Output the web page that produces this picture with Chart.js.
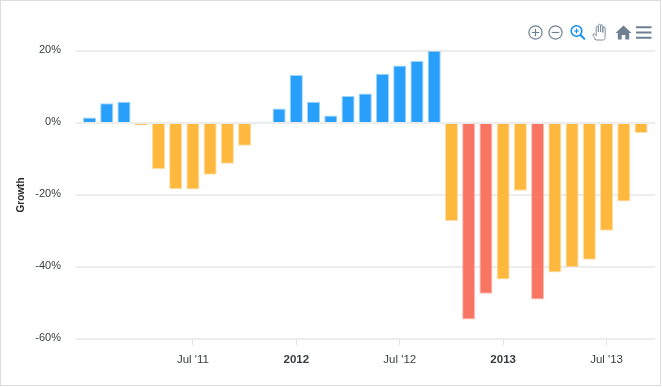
<!DOCTYPE html>
<html>
<head>
<meta charset="utf-8">
<style>
html,body{margin:0;padding:0;background:#fff;overflow:hidden}
#wrap{position:absolute;left:0;top:0;width:662px;height:387px}
#frame{position:absolute;left:0;top:0;width:659px;height:384px;border:1.5px solid #dcdcdc;pointer-events:none}
#tools{position:absolute;left:0;top:0;pointer-events:none}
</style>
<script src="https://cdn.jsdelivr.net/npm/chart.js@4"></script>
</head>
<body>
<div id="wrap">
<canvas id="c" width="662" height="387"></canvas>
<svg id="tools" width="662" height="60" fill="none">
  <g stroke="#6e8192" stroke-width="1.2">
    <circle cx="535.5" cy="32.5" r="6.6"/><path d="M531.7 32.5h7.6M535.5 28.7v7.6"/>
    <circle cx="555.5" cy="32.5" r="6.6"/><path d="M551.7 32.5h7.6"/>
  </g>
  <g stroke="#0d8fef" stroke-width="1.6">
    <circle cx="576.5" cy="31" r="5.3"/><path d="M580.5 35l4.4 4.4" stroke-width="2"/><path d="M574 31h5M576.5 28.5v5" stroke-width="1.2"/>
  </g>
  <path d="M595.500 39.500c-1.200-2.500-3.200-4.300-2.300-5.300 1-.9 2.300.3 3 1.500V27.500c0-1.700 2.200-1.700 2.200 0V32v-6.500c0-1.700 2.200-1.700 2.200 0V32v-6c0-1.700 2.200-1.700 2.200 0V32.500 28c0-1.700 2.300-1.700 2.300 0v9.500c0 1.800-.8 2.500-2.300 2.500h-5.800c-1 0-1.500-.2-2.300-.5z" stroke="#7f8f9e" stroke-width="1" fill="#fff"/>
  <path d="M623.500 25.500l-8 7.500h2.300v6.500h3.900v-4.500h3.600v4.500h3.900V33h2.300z" fill="#6e8192"/>
  <path d="M636 27.200h15.500M636 32.500h15.500M636 37.800h15.500" stroke="#6e8192" stroke-width="2"/>
</svg>
<div id="frame"></div>
</div>
<script>
const values = [1.5, 5.5, 5.9, -0.5, -12.8, -18.4, -18.5, -14.4, -11.3, -6.3, 0.3, 4,
  13.3, 5.9, 2.1, 7.5, 8.2, 13.7, 16, 17.2, 20, -27.2, -54.6, -47.4,
  -43.5, -18.8, -49, -41.5, -40, -38, -29.9, -21.8, -2.8];
const tickPositions = [6, 12, 18, 24, 30];
const tickLabels = ["Jul '11", "2012", "Jul '12", "2013", "Jul '13"];
const yTicks = [-60, -40, -20, 0, 20];
const FONT = '"Liberation Sans", Arial, sans-serif';

function barColor(v){
  if (v >= 0) return '#279ffb';
  if (v < -45) return '#f87563';
  return '#feb83d';
}
function edgeColor(v){
  if (v >= 0) return 'rgba(39,159,251,0.45)';
  if (v < -45) return 'rgba(248,117,99,0.45)';
  return 'rgba(254,184,61,0.45)';
}

const liftYLabels = {
  id: 'liftYLabels',
  beforeDraw(chart){
    for (const item of chart.scales.y.getLabelItems()) {
      if (!item.lifted) { item.options.translation[1] -= 1.5; item.lifted = true; }
    }
  }
};

new Chart(document.getElementById('c'), {
  type: 'bar',
  plugins: [liftYLabels],
  data: {
    datasets: [{
      data: values.map((y, x) => ({x, y})),
      backgroundColor: c => barColor(c.raw.y),
      borderColor: c => edgeColor(c.raw.y),
      borderWidth: c => Math.abs(c.raw.y) < 1 ? 0 : 1,
      barPercentage: 0.76,
      categoryPercentage: 1
    }]
  },
  options: {
    responsive: false,
    animation: false,
    layout: {padding: {top: 51, right: 7, left: 0, bottom: 0}},
    plugins: {legend: {display: false}, tooltip: {enabled: false}},
    scales: {
      x: {
        type: 'linear',
        offset: false,
        min: -0.783,
        max: 32.81,
        afterFit: s => { s.height = 48; },
        afterBuildTicks: s => { s.ticks = tickPositions.map(value => ({value})); },
        border: {display: false},
        grid: {offset: false, drawOnChartArea: false, drawTicks: true, tickLength: 6, color: '#e2e2e2', lineWidth: 1},
        ticks: {
          autoSkip: false, maxRotation: 0, padding: 8,
          color: '#373d3f',
          font: c => ({family: FONT, size: 11.5, weight: c.index % 2 === 1 ? 'bold' : 'normal'}),
          callback: (v, i) => tickLabels[i]
        }
      },
      y: {
        min: -60,
        max: 20,
        afterFit: s => { s.width = 76; },
        afterBuildTicks: s => { s.ticks = yTicks.map(value => ({value})); },
        border: {display: false},
        grid: {drawTicks: false, color: '#ededed', lineWidth: 2},
        title: {
          display: true, text: 'Growth', color: '#2b2b2b',
          font: {family: FONT, size: 10, weight: 'bold'},
          padding: {top: 15, bottom: 0}
        },
        ticks: {
          padding: 15, color: '#373d3f',
          font: {family: FONT, size: 11},
          callback: v => v + '%'
        }
      }
    }
  }
});
</script>
</body>
</html>
